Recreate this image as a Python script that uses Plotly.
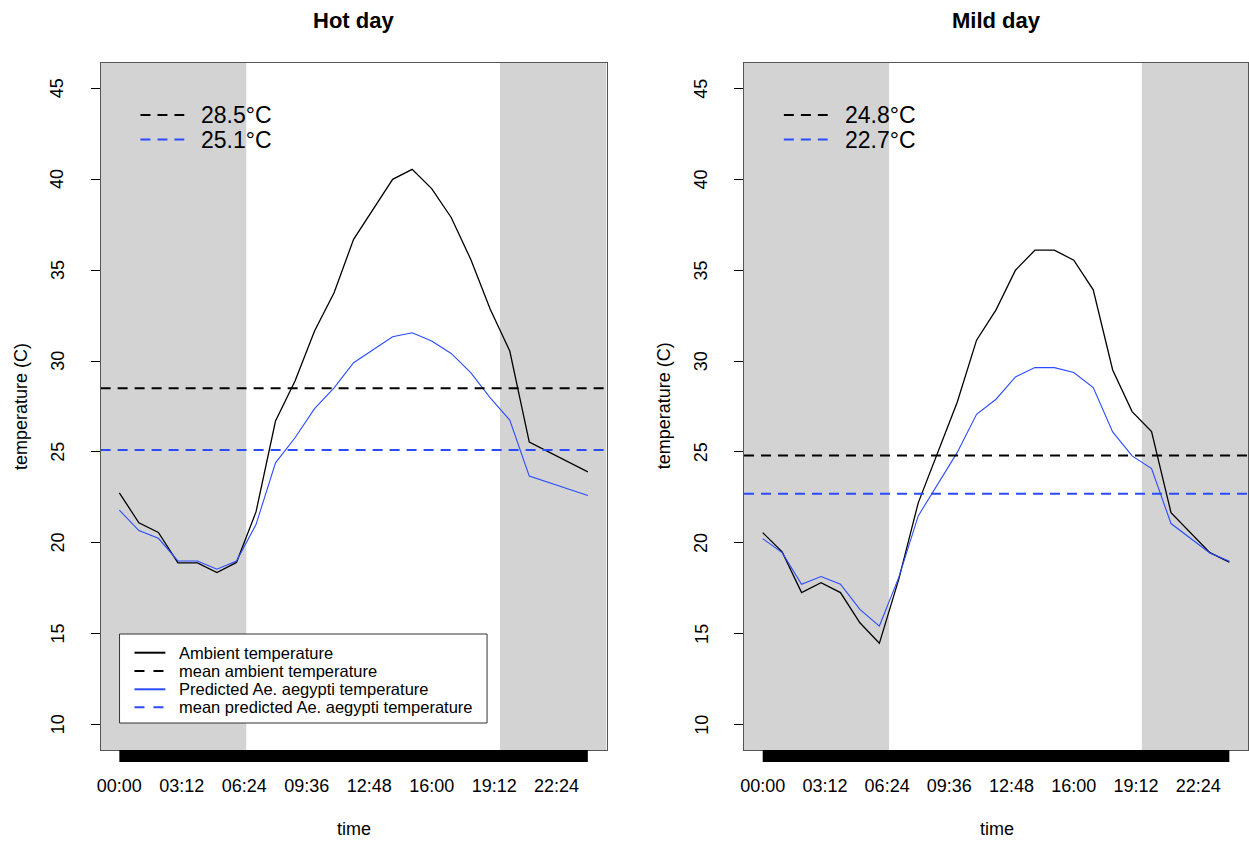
import plotly.graph_objects as go

# ---------------- data ----------------
hot_hours = [0, 1, 2, 3, 4, 5, 6, 7, 8, 9, 10, 11, 12, 13, 14, 15, 16, 17, 18, 19, 20, 21, 24]
hot_ambient = [22.75, 21.1, 20.57, 18.9, 18.9, 18.36, 18.92, 21.7, 26.7, 28.9, 31.65, 33.76,
               36.7, 38.35, 40.0, 40.55, 39.49, 37.9, 35.6, 32.85, 30.55, 25.54, 23.9]
hot_predicted = [21.8, 20.67, 20.25, 19.0, 19.0, 18.55, 19.0, 21.0, 24.4, 25.78, 27.38, 28.53,
                 29.91, 30.64, 31.34, 31.56, 31.1, 30.42, 29.36, 27.98, 26.75, 23.67, 22.6]
hot_mean_ambient = 28.5
hot_mean_predicted = 25.1

mild_hours = list(range(25))
mild_ambient = [20.56, 19.5, 17.26, 17.81, 17.26, 15.6, 14.47, 18.0, 22.2, 25.0, 27.72, 31.15,
                32.82, 35.0, 36.1, 36.1, 35.55, 33.92, 29.51, 27.22, 26.12, 21.66, 20.56, 19.46, 18.94]
mild_predicted = [20.23, 19.46, 17.72, 18.14, 17.72, 16.34, 15.42, 18.1, 21.48, 23.2, 24.96, 27.07,
                  27.9, 29.13, 29.64, 29.64, 29.37, 28.54, 26.1, 24.78, 24.08, 21.06, 20.25, 19.44, 18.98]
mild_mean_ambient = 24.8
mild_mean_predicted = 22.7

sunrise = 6.5
sunset = 19.5
ylim = (10, 45)
tick_hours = [0, 3.2, 6.4, 9.6, 12.8, 16.0, 19.2, 22.4]
tick_labels = ["00:00", "03:12", "06:24", "09:36", "12:48", "16:00", "19:12", "22:24"]
y_ticks = [10, 15, 20, 25, 30, 35, 40, 45]
legend_labels = ["Ambient temperature", "mean ambient temperature",
                 "Predicted Ae. aegypti temperature", "mean predicted Ae. aegypti temperature"]

# ---------------- styling ----------------
W, H = 1249, 842
FONT = "Liberation Sans, Arial, Helvetica, sans-serif"
BLACK = "#000000"
BLUE = "#2a4bff"
GRAY = "#D3D3D3"
BOX = "#555555"
DASH = "10px,7px"


def px(x):
    return x / W


def py(y):
    return 1 - y / H


panels = [
    dict(title="Hot day", hours=hot_hours, amb=hot_ambient, pred=hot_predicted,
         mamb=hot_mean_ambient, mpred=hot_mean_predicted, ax="x", ay="y",
         left=97, right=605, legend=True),
    dict(title="Mild day", hours=mild_hours, amb=mild_ambient, pred=mild_predicted,
         mamb=mild_mean_ambient, mpred=mild_mean_predicted, ax="x2", ay="y2",
         left=743, right=1250, legend=False),
]

fig = go.Figure()
shapes = []
annotations = []
top_y, bottom_y = 63, 750

for i, p in enumerate(panels):
    hrs = p["hours"]
    span = hrs[-1] - hrs[0]
    xlo, xhi = hrs[0] - 0.04 * span, hrs[-1] + 0.04 * span
    yspan = ylim[1] - ylim[0]
    ylo, yhi = ylim[0] - 0.04 * yspan, ylim[1] + 0.04 * yspan
    sfx = "" if i == 0 else "2"

    # night shading
    for x0, x1 in [(xlo, sunrise), (sunset, xhi)]:
        shapes.append(dict(type="rect", xref=p["ax"], yref=f"{p['ay']} domain",
                           x0=x0, x1=x1, y0=0, y1=1, fillcolor=GRAY,
                           line=dict(width=0), layer="below"))

    fig.add_trace(go.Scatter(x=hrs, y=p["amb"], mode="lines", xaxis=p["ax"], yaxis=p["ay"],
                             line=dict(color=BLACK, width=1.3), showlegend=False,
                             name=legend_labels[0]))
    fig.add_trace(go.Scatter(x=hrs, y=p["pred"], mode="lines", xaxis=p["ax"], yaxis=p["ay"],
                             line=dict(color=BLUE, width=1.1), showlegend=False,
                             name=legend_labels[2]))
    fig.add_trace(go.Scatter(x=[xlo, xhi], y=[p["mamb"], p["mamb"]], mode="lines",
                             xaxis=p["ax"], yaxis=p["ay"],
                             line=dict(color=BLACK, width=2, dash=DASH), showlegend=False,
                             name=legend_labels[1]))
    fig.add_trace(go.Scatter(x=[xlo, xhi], y=[p["mpred"], p["mpred"]], mode="lines",
                             xaxis=p["ax"], yaxis=p["ay"],
                             line=dict(color=BLUE, width=2, dash=DASH), showlegend=False,
                             name=legend_labels[3]))

    # dense tick band under the x axis
    shapes.append(dict(type="rect", xref=p["ax"], yref="paper", x0=hrs[0], x1=hrs[-1],
                       y0=py(762), y1=py(750), fillcolor=BLACK, line=dict(width=0)))

    fig.layout[f"xaxis{sfx}"] = dict(
        domain=[px(p["left"]), min(1.0, px(p["right"]))], range=[xlo, xhi],
        anchor=p["ay"], tickmode="array", tickvals=tick_hours, ticktext=tick_labels,
        ticks="", showgrid=False, zeroline=False, showline=True, mirror=True,
        linecolor=BOX, linewidth=1, tickfont=dict(family=FONT, size=18, color="#000"),
        ticklabelstandoff=19, fixedrange=True)
    fig.layout[f"yaxis{sfx}"] = dict(
        domain=[py(bottom_y), py(top_y)], range=[ylo, yhi], anchor=p["ax"],
        tickmode="array", tickvals=y_ticks, ticks="outside", ticklen=9, tickcolor="#000",
        tickwidth=1, showticklabels=False, showgrid=False, zeroline=False, showline=True,
        mirror=True, linecolor=BOX, linewidth=1, fixedrange=True)

    # rotated y tick labels, placed on the y scale
    for v in y_ticks:
        annotations.append(dict(text=str(v), x=px(p["left"] - 43), y=v, xref="paper",
                                yref=p["ay"], showarrow=False, textangle=-90,
                                font=dict(family=FONT, size=18, color="#000"),
                                xanchor="center", yanchor="middle"))

    cx = (p["left"] + p["right"]) / 2
    annotations.append(dict(text="<b>" + p["title"] + "</b>", x=px(cx), y=py(21),
                            xref="paper", yref="paper", showarrow=False,
                            font=dict(family=FONT, size=22, color="#000"),
                            xanchor="center", yanchor="middle"))
    annotations.append(dict(text="time", x=px(cx), y=py(829), xref="paper", yref="paper",
                            showarrow=False, font=dict(family=FONT, size=18, color="#000"),
                            xanchor="center", yanchor="middle"))
    annotations.append(dict(text="temperature (C)", x=px(p["left"] - 80), y=py(406),
                            xref="paper", yref="paper", showarrow=False, textangle=-90,
                            font=dict(family=FONT, size=18, color="#000"),
                            xanchor="center", yanchor="middle"))

    # mean-value legend at top-left
    off = p["left"] - 97
    for (val, col, yy) in [(p["mamb"], BLACK, 115), (p["mpred"], BLUE, 139.5)]:
        shapes.append(dict(type="line", xref="paper", yref="paper",
                           x0=px(137 + off), x1=px(181 + off), y0=py(yy), y1=py(yy),
                           line=dict(color=col, width=2, dash=DASH)))
        annotations.append(dict(text=f"{val:.1f}°C", x=px(196 + off), y=py(yy),
                                xref="paper", yref="paper", showarrow=False,
                                font=dict(family=FONT, size=23, color="#000"),
                                xanchor="left", yanchor="middle"))

    if p["legend"]:
        shapes.append(dict(type="rect", xref="paper", yref="paper",
                           x0=px(116), x1=px(485), y0=py(723), y1=py(634),
                           fillcolor="white", line=dict(color="#333", width=1)))
        rows = [652.7, 671, 689.3, 707.3]
        styles = [(BLACK, None), (BLACK, "10px,9px"), (BLUE, None), (BLUE, "10px,9px")]
        for lab, yy, (col, dsh) in zip(legend_labels, rows, styles):
            ln = dict(color=col, width=2)
            if dsh:
                ln["dash"] = dsh
            shapes.append(dict(type="line", xref="paper", yref="paper",
                               x0=px(131), x1=px(162), y0=py(yy), y1=py(yy), line=ln))
            annotations.append(dict(text=lab, x=px(174), y=py(yy), xref="paper",
                                    yref="paper", showarrow=False,
                                    font=dict(family=FONT, size=16.5, color="#000"),
                                    xanchor="left", yanchor="middle"))

fig.update_layout(
    width=W, height=H, margin=dict(l=0, r=0, t=0, b=0),
    paper_bgcolor="white", plot_bgcolor="white",
    shapes=shapes, annotations=annotations, showlegend=False,
    font=dict(family=FONT, color="#000"),
)

fig.write_html("out.html", config={"displayModeBar": False},
               post_script="document.body.style.margin='0';document.body.style.overflow='hidden';")
